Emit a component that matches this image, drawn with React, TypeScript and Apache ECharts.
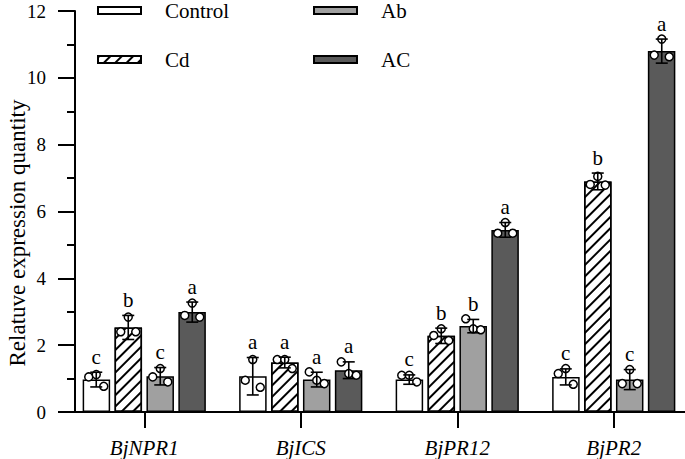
import { useEffect, useRef } from "react";
import * as echarts from "echarts";

const categories = ["BjNPR1", "BjICS", "BjPR12", "BjPR2"];
const groupNames = ["Control", "Cd", "Ab", "AC"];
const yAxisTitle = "Relatuve expression quantity";

const controlMean = [0.97, 1.07, 0.97, 1.05];
const cdMean = [2.53, 1.48, 2.28, 6.9];
const abMean = [1.07, 0.97, 2.57, 0.97];
const acMean = [2.99, 1.25, 5.45, 10.8];

const controlSD = [0.22, 0.56, 0.14, 0.24];
const cdSD = [0.36, 0.16, 0.23, 0.25];
const abSD = [0.26, 0.22, 0.2, 0.3];
const acSD = [0.3, 0.25, 0.22, 0.36];

// replicate points (left, centre, right) per category
const controlReps = [[1.05, 1.12, 0.77], [0.95, 1.57, 0.74], [1.1, 1.1, 0.9], [1.15, 1.3, 0.83]];
const cdReps = [[2.4, 2.84, 2.4], [1.57, 1.57, 1.3], [2.29, 2.49, 2.14], [6.81, 7.05, 6.79]];
const abReps = [[1.05, 1.3, 0.9], [1.2, 0.95, 0.85], [2.79, 2.49, 2.46], [0.85, 1.27, 0.85]];
const acReps = [[2.89, 3.26, 2.84], [1.5, 1.15, 1.1], [5.35, 5.67, 5.35], [10.68, 11.16, 10.63]];

const controlLetters = ["c", "a", "c", "c"];
const cdLetters = ["b", "a", "b", "b"];
const abLetters = ["c", "a", "b", "c"];
const acLetters = ["a", "a", "a", "a"];

const yTicks = [0, 2, 4, 6, 8, 10, 12];

const means = [controlMean, cdMean, abMean, acMean];
const sds = [controlSD, cdSD, abSD, acSD];
const reps = [controlReps, cdReps, abReps, acReps];
const letters = [controlLetters, cdLetters, abLetters, acLetters];
const fills = ["#ffffff", "#ffffff", "#a0a0a0", "#5a5a5a"];

const FONT = "Times New Roman";
const BAR_W = 27.5;
const BAR_STEP = 32;

export default function App() {
  const ref = useRef<HTMLDivElement>(null);
  useEffect(() => {
    document.body.style.margin = "0";
    if (!ref.current) return;
    const chart = echarts.init(ref.current, null, { renderer: "svg" });

    const barSeries = groupNames.map((name, g) => ({
      name,
      type: "bar",
      data: means[g],
      barWidth: BAR_W,
      barGap: "16%",
      itemStyle: {
        color: fills[g],
        borderColor: "#000",
        borderWidth: 1.5,
        decal:
          g === 1
            ? {
                symbol: "rect",
                symbolSize: 1,
                dashArrayX: [1, 0],
                dashArrayY: [2, 6],
                rotation: -Math.PI / 4,
                color: "#000",
              }
            : "none",
      },
      z: 2,
    }));

    const customData: number[][] = [];
    groupNames.forEach((_, g) => {
      categories.forEach((_, c) => {
        customData.push([c, means[g][c], sds[g][c], g]);
      });
    });

    const overlay = {
      type: "custom",
      z: 5,
      data: customData,
      renderItem: (_params: any, api: any) => {
        const c = api.value(0);
        const mean = api.value(1);
        const sd = api.value(2);
        const g = api.value(3);
        const base = api.coord([c, mean]);
        const x = base[0] + (g - 1.5) * BAR_STEP;
        const yTop = api.coord([c, mean + sd])[1];
        const yBot = api.coord([c, mean - sd])[1];
        const children: any[] = [];
        const r = reps[g][c];
        r.forEach((v: number, i: number) => {
          const py = api.coord([c, v])[1];
          children.push({
            type: "circle",
            shape: { cx: x + (i - 1) * 7.5, cy: py, r: 4 },
            style: { fill: "#fff", stroke: "#000", lineWidth: 1.5 },
          });
        });
        const ls = { stroke: "#000", lineWidth: 1.6 };
        children.push({ type: "line", shape: { x1: x, y1: yBot, x2: x, y2: yTop }, style: ls });
        children.push({ type: "line", shape: { x1: x - 6, y1: yTop, x2: x + 6, y2: yTop }, style: ls });
        children.push({ type: "line", shape: { x1: x - 6, y1: yBot, x2: x + 6, y2: yBot }, style: ls });
        children.push({
          type: "text",
          style: {
            x,
            y: yTop - 5,
            text: letters[g][c],
            fill: "#000",
            fontFamily: FONT,
            fontSize: 21,
            align: "center",
            verticalAlign: "bottom",
          },
        });
        return { type: "group", children };
      },
    };

    const legendRich = { t: { fontFamily: FONT, fontSize: 21, color: "#000" } };
    const yRich = { t: { fontFamily: FONT, fontSize: 19, color: "#000", lineHeight: 15 } };

    const legendCommon = {
      orient: "vertical",
      icon: "rect",
      itemWidth: 43,
      itemHeight: 7,
      itemGap: 28,
      top: 0,
      padding: 0,
      formatter: (name: string) => `{t|${name}}`,
      textStyle: {
        fontFamily: FONT,
        fontSize: 21,
        color: "#000",
        padding: [0, 0, 0, 19],
        rich: legendRich,
      },
      selectedMode: false,
    };

    chart.setOption({
      animation: false,
      textStyle: { fontFamily: FONT },
      grid: { left: 66, width: 626, top: 11, height: 401, outerBoundsMode: "none", containLabel: false },
      legend: [
        { ...legendCommon, left: 97, data: ["Control", "Cd"] },
        { ...legendCommon, left: 313, data: ["Ab", "AC"] },
      ],
      xAxis: {
        type: "category",
        data: categories,
        axisLine: { show: false },
        axisTick: { show: true, alignWithLabel: true, length: 16, lineStyle: { color: "#000", width: 2 } },
        axisLabel: { fontFamily: FONT, fontStyle: "italic", fontSize: 21, color: "#000", margin: 25 },
      },
      yAxis: {
        type: "value",
        min: yTicks[0],
        max: yTicks[yTicks.length - 1],
        interval: 2,
        offset: -9,
        axisLine: { show: true, lineStyle: { color: "#000", width: 2 } },
        axisTick: { show: true, length: 17, lineStyle: { color: "#000", width: 2 } },
        minorTick: { show: true, splitNumber: 2, length: 8, lineStyle: { color: "#000", width: 2 } },
        splitLine: { show: false },
        axisLabel: {
          fontFamily: FONT,
          fontSize: 19,
          color: "#000",
          margin: 29,
          formatter: (v: number) => `{t|${v}}`,
          rich: yRich,
        },
      },
      graphic: [
        {
          type: "line",
          shape: { x1: 75, y1: 412, x2: 685, y2: 412 },
          style: { stroke: "#000", lineWidth: 2 },
          z: 10,
        },
        {
          type: "text",
          x: 17,
          y: 233,
          rotation: Math.PI / 2,
          style: {
            text: yAxisTitle,
            fontFamily: FONT,
            fontSize: 23,
            fill: "#000",
            align: "center",
            verticalAlign: "middle",
          },
          z: 10,
        },
      ],
      series: [...barSeries, overlay],
    });
    return () => chart.dispose();
  }, []);
  return <div ref={ref} style={{ width: 685, height: 459 }} />;
}
